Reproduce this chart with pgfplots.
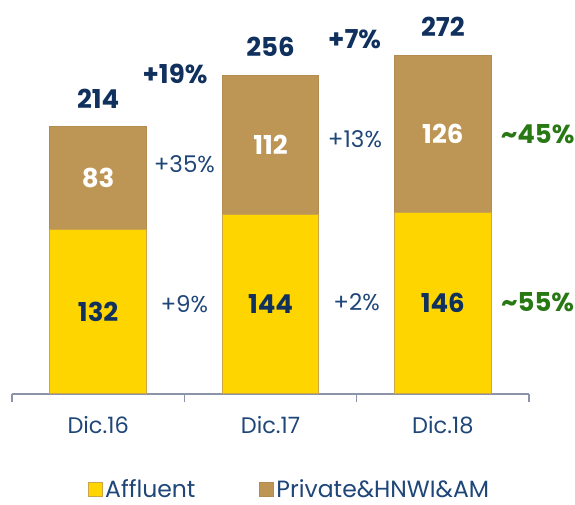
\documentclass[border=0pt]{standalone}
\usepackage{fontspec}
\setmainfont{Poppins}
\usepackage{pgfplots}
\pgfplotsset{compat=1.18}
\pgfplotsset{sqleg/.style={legend image code/.code={\draw[##1,line width=1pt] (0pt,-7pt) rectangle (14pt,7pt);}}}
\definecolor{gold}{RGB}{255,213,0}
\definecolor{goldedge}{RGB}{205,165,70}
\definecolor{tan}{RGB}{189,150,86}
\definecolor{tanedge}{RGB}{178,140,80}
\definecolor{navy}{RGB}{16,48,94}
\definecolor{navyl}{RGB}{31,70,120}
\definecolor{grn}{RGB}{40,120,20}
\definecolor{axgray}{RGB}{140,148,168}
\tikzset{bl/.style={font=\fontsize{26}{30}\selectfont\bfseries},
         rl/.style={font=\fontsize{23}{27}\selectfont, text=navyl}}
\begin{document}
\begin{tikzpicture}
\useasboundingbox (-12pt,-111pt) rectangle (563pt,394pt);
\begin{axis}[
 scale only axis, width=517pt, height=394pt,
 xmin=-0.5, xmax=2.5, ymin=0, ymax=316.5,
 ybar stacked, bar width=96.5pt,
 axis x line*=bottom, axis y line=none,
 axis line style={axgray, line width=1.5pt},
 xtick={0,1,2}, xticklabels={Dic.16,Dic.17,Dic.18},
 major tick length=0pt,
 xticklabel style={anchor=base, yshift=-39pt, font=\fontsize{22.5}{26}\selectfont, text=navyl},
 extra x ticks={-0.5,0.5,1.5,2.5}, extra x tick labels={},
 extra x tick style={major tick length=8pt, tick align=outside, tick style={axgray, line width=1.5pt}},
 clip=false,
 legend columns=2,
 legend style={at={(axis description cs:0.147,-0.243)}, anchor=west, draw=none, fill=none,
   font=\fontsize{23.5}{27}\selectfont, text=navyl, inner sep=0pt,
   /tikz/every even column/.append style={column sep=62pt}},
]
\addplot[fill=gold, draw=goldedge, line width=1pt, sqleg]
  coordinates {(0,132) (1,144) (2,146)};
\addplot[fill=tan, draw=tanedge, line width=1pt, sqleg]
  coordinates {(0,83) (1,112) (2,126)};
\legend{Affluent, Private\&HNWI\&AM}
\coordinate (t0) at (axis cs:0,214);
\coordinate (t1) at (axis cs:1,256);
\coordinate (t2) at (axis cs:2,272);
\coordinate (y0) at (axis cs:0,66);
\coordinate (y1) at (axis cs:1,72);
\coordinate (y2) at (axis cs:2,73);
\coordinate (b0) at (axis cs:0,173.5);
\coordinate (b1) at (axis cs:1,200);
\coordinate (b2) at (axis cs:2,209);
\coordinate (g19) at (axis cs:0.446,257);
\coordinate (g7) at (axis cs:1.488,285);
\coordinate (g35) at (axis cs:0.5,185);
\coordinate (g13) at (axis cs:1.49,205);
\coordinate (g9) at (axis cs:0.5,72);
\coordinate (g2) at (axis cs:1.5,74);
\coordinate (p45) at (axis cs:2.55,209);
\coordinate (p55) at (axis cs:2.55,74);
\end{axis}
\node[bl, anchor=base, yshift=19pt, text=navy] at (t0) {214};
\node[bl, anchor=base, yshift=19pt, text=navy] at (t1) {256};
\node[bl, anchor=base, yshift=19pt, text=navy] at (t2) {272};
\node[bl, text=navy] at (y0) {132};
\node[bl, text=navy] at (y1) {144};
\node[bl, text=navy] at (y2) {146};
\node[bl, text=white] at (b0) {83};
\node[bl, text=white] at (b1) {112};
\node[bl, text=white] at (b2) {126};
\node[bl, text=navy] at (g19) {+19\%};
\node[bl, text=navy] at (g7) {+7\%};
\node[rl] at (g35) {+35\%};
\node[rl] at (g13) {+13\%};
\node[rl] at (g9) {+9\%};
\node[rl] at (g2) {+2\%};
\node[bl, text=grn] at (p45) {\textasciitilde45\%};
\node[bl, text=grn] at (p55) {\textasciitilde55\%};
\end{tikzpicture}
\end{document}
